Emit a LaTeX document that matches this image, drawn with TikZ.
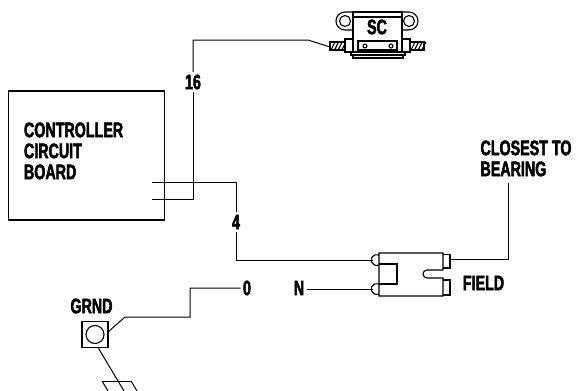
\documentclass[tikz,border=0pt]{standalone}
\usepackage{fontspec}
\setmainfont[FakeStretch=0.68,BoldFeatures={FakeBold=2.2}]{Liberation Sans}
\usetikzlibrary{calc, positioning}
\begin{document}
\begin{tikzpicture}[x=1pt, y=-1pt,
        wire/.style={line width=1pt, black},
        part/.style={line width=1.1pt, black},
        lbl/.style={inner sep=0pt, outer sep=2.5pt, font=\fontsize{21}{21}\selectfont\bfseries},
        hatch/.style={line width=1.1pt},
    ]
    \useasboundingbox (0, 0) rectangle (576, 391);

    % board
    \node[draw, part, minimum width=155.5pt, minimum height=129pt, inner sep=0pt, outer sep=0pt] (board) at (86.5, 155.5) {};
    \node[lbl, anchor=north west, align=left] (boardlbl) at (21.5, 120) {CONTROLLER\\CIRCUIT\\BOARD};
    \coordinate (out4) at (152, 182);
    \coordinate (out16) at (152, 199);

    % switch
    \draw[part] (353, 12) rectangle (402, 52);
    \draw[part] (353, 17) -- (402, 17);
    \draw[part] (353, 12) -- (345, 12) arc (-90:-270:9) -- (353, 30);
    \draw[part] (402, 12) -- (409, 12) arc (-90:90:9) -- (402, 30);
    \draw[part] (345, 21) circle (5.5);
    \draw[part] (409, 21) circle (5.5);
    \draw[part] (358, 41) rectangle (397, 50);
    \draw[part] (365, 46) circle (2);
    \draw[part] (391, 46) circle (2);
    \draw[part] (351, 52) rectangle (405, 55);
    \draw[part] (353, 55) rectangle (403, 58);
    \draw[part] (345, 39) rectangle (353, 52);
    \draw[part] (402, 39) rectangle (410, 52);
    \draw[part] (330, 42) rectangle (345, 50);
    \draw[part] (410, 42) rectangle (424, 50);
    \foreach \i in {0,...,3} {
        \draw[hatch] (331+3.6*\i, 50) -- (335+3.6*\i, 42);
        \draw[hatch] (411+3.6*\i, 50) -- (415+3.6*\i, 42);
    }
    \node[lbl] (sclbl) at (377, 27) {SC};
    \coordinate (scin) at (330, 47);

    % field connector
    \draw[part] (443, 270) -- (443, 253) -- (379, 253) -- (379, 296) -- (443, 296) -- (443, 278) -- (427, 278) arc (90:270:4) -- (443, 270);
    \draw[part] (379, 264) -- (397, 264) -- (397, 284) -- (379, 284);
    \draw[part] (379, 255) arc (-65:-295:5.5);
    \draw[part] (379, 284) arc (-65:-295:5.5);
    \draw[part] (443, 254.5) -- (450, 254.5) -- (450, 268) -- (443, 268);
    \draw[part] (443, 280) -- (450, 280) -- (450, 295) -- (443, 295);
    \coordinate (fieldin4) at (373, 260);
    \coordinate (fieldinN) at (373, 289);
    \coordinate (fieldout) at (450, 259);

    % ground
    \node[draw, part, minimum size=26pt, inner sep=0pt, outer sep=0pt] (grnd) at (95, 334.5) {};
    \node[draw, part, circle, minimum size=18pt, inner sep=0pt] (grndring) at (95, 334.5) {};
    \node[lbl] (grndlbl) at (91.5, 306) {GRND};
    \coordinate (tail) at (124, 391);
    \draw[wire] (98, 347.5) -- (tail);
    \draw[wire] (102, 381) -- (131, 381);
    \draw[wire] (102, 381) -- (108, 391);
    \draw[wire] (131, 381) -- (137, 391);

    % labels on the wires
    \node[lbl] (lbl16) at (193, 82) {16};
    \node[lbl] (lbl4) at (236, 222) {4};
    \node[lbl] (lbl0) at (247, 288) {0};
    \node[lbl] (lblN) at (299, 288) {N};
    \node[lbl] (fieldlbl) at (483.5, 283) {FIELD};
    \node[lbl, anchor=north west, align=left] (bearlbl) at (478, 138) {CLOSEST TO\\BEARING};

    % wires
    \draw[wire] (out16) -| (lbl16.south);
    \draw[wire] (lbl16.north) -- (193, 40) -- (308, 40) -- (scin);
    \draw[wire] (out4) -| (lbl4.north);
    \draw[wire] (lbl4.south) -- (236, 260) -- (fieldin4);
    \draw[wire] (lblN.east |- fieldinN) -- (fieldinN);
    \draw[wire] (fieldout) -| (508, 183);
    \draw[wire] (108, 332) -- (125, 317) -- (190, 317) -- (190, 288) -- (lbl0.west);
\end{tikzpicture}
\end{document}
